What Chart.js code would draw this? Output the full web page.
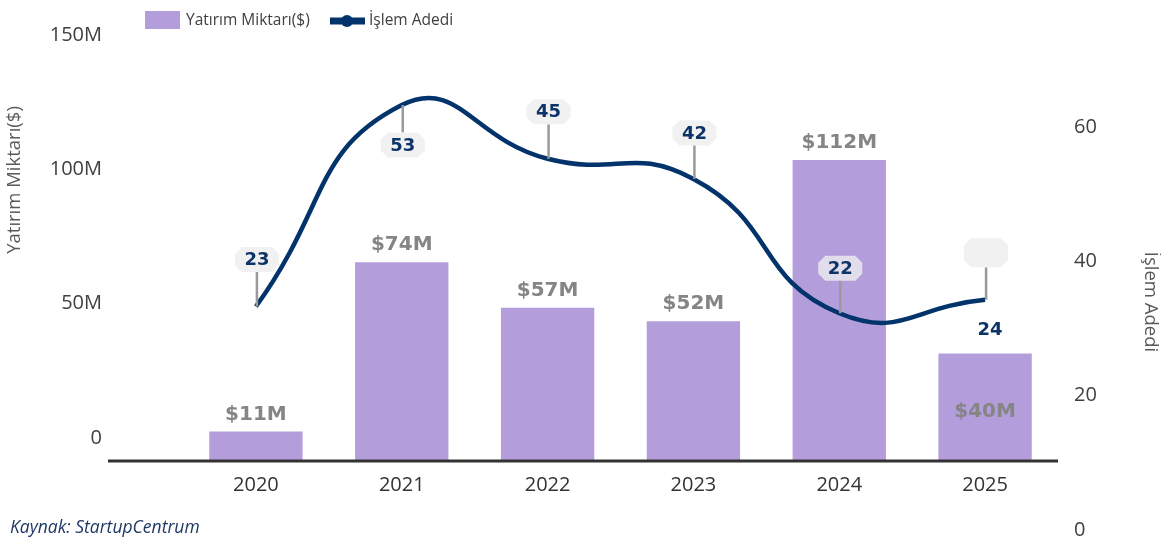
<!DOCTYPE html>
<html lang="tr">
<head>
  <meta charset="UTF-8">
  <title>Yatırım Miktarı ve İşlem Adedi</title>
  <script src="https://cdn.jsdelivr.net/npm/chart.js"></script>
  <style>
    html, body { margin:0; padding:0; background:#fff; }
    #wrap { position:relative; width:1161px; height:537px; }
  </style>
</head>
<body>
<div id="wrap"><canvas id="chart" width="1161" height="537"></canvas></div>
<script>
const years = ["2020","2021","2022","2023","2024","2025"];
const investment = [11e6, 74e6, 57e6, 52e6, 112e6, 40e6];
const investmentLabels = ["$11M","$74M","$57M","$52M","$112M","$40M"];
const deals = [23, 53, 45, 42, 22, 24];
const leftTicks = [0, 50e6, 100e6, 150e6];
const rightTicks = [0, 20, 40, 60];

const BAR = '#b39ddb', LINE = '#03336b', NAVY = '#0d3468';
// label placement (pixels, relative to the mark)
const barLabelDy = [-17, -17, -17, -17, -17, 58];
const dealBoxDy = [-47, 40, -47, -46, -45, -47];
const dealBoxText = [true, true, true, true, true, false];

function chamferBox(ctx, cx, cy, w, h, c) {
  const x = cx - w/2, y = cy - h/2;
  ctx.beginPath();
  ctx.moveTo(x + c, y); ctx.lineTo(x + w - c, y); ctx.lineTo(x + w, y + c);
  ctx.lineTo(x + w, y + h - c); ctx.lineTo(x + w - c, y + h); ctx.lineTo(x + c, y + h);
  ctx.lineTo(x, y + h - c); ctx.lineTo(x, y + c); ctx.closePath();
  ctx.fill();
}

const extras = {
  id: 'extras',
  afterDatasetsDraw(chart) {
    const ctx = chart.ctx;
    const xs = chart.scales.x, yl = chart.scales.y, yr = chart.scales.y1;
    ctx.save();
    // axis line
    ctx.strokeStyle = '#333'; ctx.lineWidth = 3;
    ctx.beginPath(); ctx.moveTo(108, yl.bottom); ctx.lineTo(xs.right, yl.bottom); ctx.stroke();

    // bar labels
    ctx.font = 'bold 20px "DejaVu Sans"';
    ctx.fillStyle = '#858585'; ctx.textAlign = 'center'; ctx.textBaseline = 'middle';
    investment.forEach((v, i) => {
      ctx.fillText(investmentLabels[i], xs.getPixelForValue(i), yl.getPixelForValue(v) + barLabelDy[i]);
    });

    // deal labels
    deals.forEach((v, i) => {
      const px = xs.getPixelForValue(i), py = yr.getPixelForValue(v);
      const by = py + dealBoxDy[i];
      const up = dealBoxDy[i] < 0;
      const h = dealBoxText[i] ? 25 : 29;
      ctx.strokeStyle = '#9a9a9a'; ctx.lineWidth = 2.5;
      ctx.beginPath(); ctx.moveTo(px + 1, py);
      ctx.lineTo(px + 1, up ? by + h/2 : by - h/2); ctx.stroke();
      ctx.fillStyle = 'rgba(238,238,238,0.8)';
      chamferBox(ctx, px + 1, by, 44, h, 7);
      ctx.fillStyle = NAVY; ctx.font = 'bold 18px "DejaVu Sans"';
      if (dealBoxText[i]) ctx.fillText(String(v), px + 1, by + 1);
      else ctx.fillText(String(v), px + 5, py + 31);
    });

    // legend
    ctx.fillStyle = BAR; ctx.fillRect(145, 11, 35, 18);
    ctx.fillStyle = '#404040'; ctx.font = '15.5px "Open Sans"'; ctx.textAlign = 'left';
    ctx.fillText('Yatırım Miktarı($)', 186, 21);
    ctx.strokeStyle = LINE; ctx.lineWidth = 7;
    ctx.beginPath(); ctx.moveTo(330, 21); ctx.lineTo(365, 21); ctx.stroke();
    ctx.fillStyle = LINE; ctx.beginPath(); ctx.arc(347, 21, 6, 0, Math.PI*2); ctx.fill();
    ctx.fillStyle = '#404040'; ctx.fillText('İşlem Adedi', 369, 21);

    // axis titles
    ctx.font = '18.5px "Open Sans"'; ctx.fillStyle = '#595959'; ctx.textAlign = 'center';
    ctx.save(); ctx.translate(15, 180); ctx.rotate(-Math.PI/2); ctx.fillText('Yatırım Miktarı($)', 0, 0); ctx.restore();
    ctx.save(); ctx.translate(1150, 302); ctx.rotate(Math.PI/2); ctx.fillText('İşlem Adedi', 0, 0); ctx.restore();

    // source
    ctx.font = 'italic 17.5px "Open Sans"'; ctx.fillStyle = '#1f3864'; ctx.textAlign = 'left';
    ctx.fillText('Kaynak: StartupCentrum', 10, 528);
    ctx.restore();
  }
};

function noPad(s) { s.paddingTop = 0; s.paddingBottom = 0; }

new Chart(document.getElementById('chart'), {
  data: {
    labels: years,
    datasets: [
      { type:'line', label:'İşlem Adedi', data:deals, yAxisID:'y1', borderColor:LINE, borderWidth:4.5,
        tension:0.5, pointRadius:0, fill:false, order:0 },
      { type:'bar', label:'Yatırım Miktarı($)', data:investment, yAxisID:'y', backgroundColor:BAR,
        barPercentage:1, categoryPercentage:0.64, order:1 }
    ]
  },
  options: {
    responsive:false, animation:false,
    layout:{ padding:{ top:58, left:0, right:0, bottom:0 } },
    plugins:{ legend:{display:false}, tooltip:{enabled:false} },
    scales:{
      x:{
        grid:{display:false, drawTicks:false}, border:{display:false},
        ticks:{ color:'#333', font:{family:'Open Sans', size:20}, padding:12 },
        afterFit(s){ s.height = 76; s.paddingLeft = 0; s.paddingRight = 0; }
      },
      y:{
        position:'left', min:0, max:150e6,
        grid:{display:false, drawTicks:false}, border:{display:false},
        afterBuildTicks(s){ s.ticks = leftTicks.map(v => ({value:v})); },
        ticks:{ color:'#404040', font:{family:'Open Sans', size:20}, padding:81, labelOffset:-23,
          callback:v => v === 0 ? '0' : (v/1e6) + 'M' },
        afterFit(s){ s.width = 183; noPad(s); }
      },
      y1:{
        position:'right', min:0, max:60,
        grid:{display:false, drawTicks:false}, border:{display:false},
        afterBuildTicks(s){ s.ticks = rightTicks.map(v => ({value:v})); },
        ticks:{ color:'#404040', font:{family:'Open Sans', size:20}, padding:16, labelOffset:69 },
        afterFit(s){ s.width = 103; noPad(s); }
      }
    }
  },
  plugins:[extras]
});
</script>
</body>
</html>
